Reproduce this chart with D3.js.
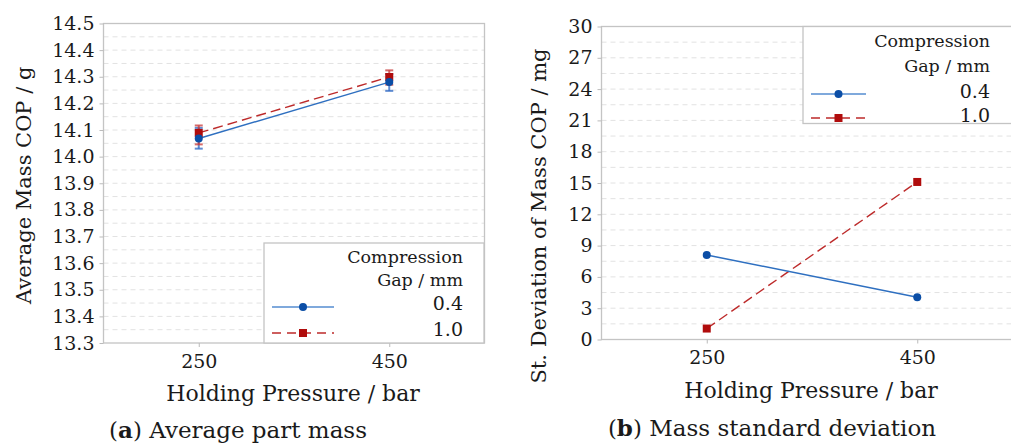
<!DOCTYPE html>
<html>
<head>
<meta charset="utf-8">
<script src="https://d3js.org/d3.v7.min.js"></script>
<style>
  body { margin: 0; background: #fff; }
  svg text { font-family: 'DejaVu Serif', serif; fill: #1a1a1a; }
</style>
</head>
<body>
<svg id="chart" width="1011" height="444"></svg>
<script>
// data
var pressures = [250, 450];
var gaps = ["0.4", "1.0"];

// (a) average mass, g
var mass04 = [14.068, 14.280];
var mass10 = [14.089, 14.299];
var massErrLo04 = [14.030, 14.247];
var massErrHi04 = [14.108, 14.310];
var massErrLo10 = [14.046, 14.270];
var massErrHi10 = [14.117, 14.324];
var massTicks = [13.3, 13.4, 13.5, 13.6, 13.7, 13.8, 13.9, 14.0, 14.1, 14.2, 14.3, 14.4, 14.5];

// (b) st. deviation, mg
var sd04 = [8.1, 4.05];
var sd10 = [1.05, 15.1];
var sdTicks = [0, 3, 6, 9, 12, 15, 18, 21, 24, 27, 30];

var blue = "#0b4ea6", blueLine = "#2e6fc0", blueLight = "#7fa9dc";
var red = "#b00c0c", redLine = "#bd2a2a";
var FONT = "'DejaVu Serif', serif";

var svg = d3.select("#chart");

function drawPanel(p) {
  var g = svg.append("g");
  var x = d3.scaleLinear().domain([150, 550]).range([p.left, p.left + p.width]);
  var y = d3.scaleLinear().domain(p.domain).range([p.bottom, p.top]);

  // grid (every half step)
  var step = p.ticks[1] - p.ticks[0];
  var grid = d3.range(p.domain[0] + step / 2, p.domain[1] - 1e-9, step / 2);
  g.selectAll(".grid").data(grid).enter().append("line")
    .attr("x1", p.left).attr("x2", p.left + p.width)
    .attr("y1", function(d) { return y(d); }).attr("y2", function(d) { return y(d); })
    .attr("stroke", "#e2e2e2").attr("stroke-dasharray", "5,4").attr("stroke-width", 1);

  // frame
  g.append("rect").attr("x", p.left).attr("y", p.top)
    .attr("width", p.width).attr("height", p.bottom - p.top)
    .attr("fill", "none").attr("stroke", "#c4c4c4").attr("stroke-width", 1.3);

  // y axis
  var ya = d3.axisLeft(y).tickValues(p.ticks).tickSize(4).tickPadding(5).tickFormat(p.fmt);
  var yg = g.append("g").attr("transform", "translate(" + p.left + ",0)").call(ya);
  yg.attr("font-family", FONT);
  yg.select(".domain").remove();
  yg.selectAll("line").attr("stroke", "#bbb");
  yg.selectAll("text").style("font-size", "19px").style("font-family", FONT).attr("fill", "#1a1a1a");

  // x axis
  var xa = d3.axisBottom(x).tickValues(pressures).tickSize(4).tickPadding(p.xPad);
  var xg = g.append("g").attr("transform", "translate(0," + p.bottom + ")").call(xa);
  xg.attr("font-family", FONT);
  xg.select(".domain").remove();
  xg.selectAll("line").attr("stroke", "#bbb");
  xg.selectAll("text").style("font-size", "19px").style("font-family", FONT).attr("fill", "#1a1a1a");

  g.append("text").attr("x", p.xTitleX).attr("y", p.bottom + 58)
    .attr("text-anchor", "middle").style("font-size", "22px").text("Holding Pressure / bar");

  g.append("text").attr("transform", "translate(" + p.yTitleX + "," + ((p.top + p.bottom) / 2 + p.yTitleShift) + ") rotate(-90)")
    .attr("text-anchor", "middle").style("font-size", "21px").text(p.yTitle);

  var cap = g.append("text").attr("x", p.capX).attr("y", p.capY)
    .attr("text-anchor", "middle").style("font-size", "23px");
  cap.append("tspan").text("(");
  cap.append("tspan").attr("font-weight", "bold").text(p.letter);
  cap.append("tspan").text(") " + p.caption);

  // error bars
  if (p.err) {
    p.err.forEach(function(e) {
      pressures.forEach(function(pr, i) {
        var cx = x(pr);
        g.append("line").attr("x1", cx).attr("x2", cx)
          .attr("y1", y(e.lo[i])).attr("y2", y(e.hi[i]))
          .attr("stroke", e.color).attr("stroke-width", 2).attr("opacity", 0.75);
        [e.lo[i], e.hi[i]].forEach(function(v) {
          g.append("line").attr("x1", cx - 4).attr("x2", cx + 4)
            .attr("y1", y(v)).attr("y2", y(v))
            .attr("stroke", e.color).attr("stroke-width", 2).attr("opacity", 0.75);
        });
      });
    });
  }

  var line = d3.line().x(function(d, i) { return x(pressures[i]); }).y(function(d) { return y(d); });
  g.append("path").datum(p.s10).attr("d", line).attr("fill", "none")
    .attr("stroke", redLine).attr("stroke-width", 1.4).attr("stroke-dasharray", "10,5");
  g.append("path").datum(p.s04).attr("d", line).attr("fill", "none")
    .attr("stroke", blueLine).attr("stroke-width", 1.4);

  g.selectAll(".sq").data(p.s10).enter().append("rect")
    .attr("x", function(d, i) { return x(pressures[i]) - 4; })
    .attr("y", function(d) { return y(d) - 4; })
    .attr("width", 8).attr("height", 8).attr("fill", red);
  g.selectAll(".dot").data(p.s04).enter().append("circle")
    .attr("cx", function(d, i) { return x(pressures[i]); })
    .attr("cy", function(d) { return y(d); })
    .attr("r", 4).attr("fill", blue);

  // legend
  var L = p.legend;
  var lg = g.append("g");
  lg.append("rect").attr("x", L.x).attr("y", L.y).attr("width", L.w).attr("height", L.h)
    .attr("fill", "#fff").attr("stroke", "#c4c4c4").attr("stroke-width", 1.3);
  var rx = L.x + L.textRight;
  lg.append("text").attr("x", rx).attr("y", L.y + L.rows[0]).attr("text-anchor", "end").style("font-size", "17.5px").text("Compression");
  lg.append("text").attr("x", rx).attr("y", L.y + L.rows[1]).attr("text-anchor", "end").style("font-size", "17.5px").text("Gap / mm");
  var rowsY = [L.y + L.rows[2], L.y + L.rows[3]];
  lg.append("text").attr("x", rx).attr("y", rowsY[0]).attr("text-anchor", "end").style("font-size", "19px").text(gaps[0]);
  lg.append("text").attr("x", rx).attr("y", rowsY[1]).attr("text-anchor", "end").style("font-size", "19px").text(gaps[1]);
  var ly0 = rowsY[0] - L.lineOff, ly1 = rowsY[1] - L.lineOff;
  var lx1 = L.x + 8, lx2 = L.x + 8 + L.lineW, lm = (lx1 + lx2) / 2;
  lg.append("line").attr("x1", lx1).attr("x2", lx2).attr("y1", ly0).attr("y2", ly0)
    .attr("stroke", blueLight).attr("stroke-width", 2.2);
  lg.append("circle").attr("cx", lm).attr("cy", ly0).attr("r", 4).attr("fill", blue);
  lg.append("line").attr("x1", lx1).attr("x2", lx2).attr("y1", ly1).attr("y2", ly1)
    .attr("stroke", redLine).attr("stroke-width", 1.4).attr("stroke-dasharray", "9,6");
  lg.append("rect").attr("x", lm - 4).attr("y", ly1 - 4).attr("width", 8).attr("height", 8).attr("fill", red);
}

drawPanel({
  left: 103.5, width: 381, top: 23.5, bottom: 343, domain: [13.3, 14.5], ticks: massTicks,
  fmt: d3.format(".1f"), s04: mass04, s10: mass10, xPad: 8,
  err: [
    { lo: massErrLo04, hi: massErrHi04, color: "#2b66c4" },
    { lo: massErrLo10, hi: massErrHi10, color: "#c93a3a" }
  ],
  yTitle: "Average Mass COP / g", yTitleX: 31, yTitleShift: 2,
  xTitleX: 293, capX: 238, capY: 438, letter: "a", caption: "Average part mass",
  legend: { x: 264, y: 243, w: 220, h: 100, textRight: 199, rows: [20, 43, 67, 93], lineW: 62, lineOff: 3 }
});

drawPanel({
  left: 601.5, width: 421, top: 26.5, bottom: 339.5, domain: [0, 30], ticks: sdTicks,
  fmt: d3.format("d"), s04: sd04, s10: sd10, err: null, xPad: 7,
  yTitle: "St. Deviation of Mass COP / mg", yTitleX: 546, yTitleShift: 33,
  xTitleX: 811, capX: 772, capY: 436, letter: "b", caption: "Mass standard deviation",
  legend: { x: 803, y: 26.5, w: 220, h: 97, textRight: 187, rows: [20, 45, 71.5, 95.5], lineW: 55, lineOff: 4 }
});
</script>
</body>
</html>
